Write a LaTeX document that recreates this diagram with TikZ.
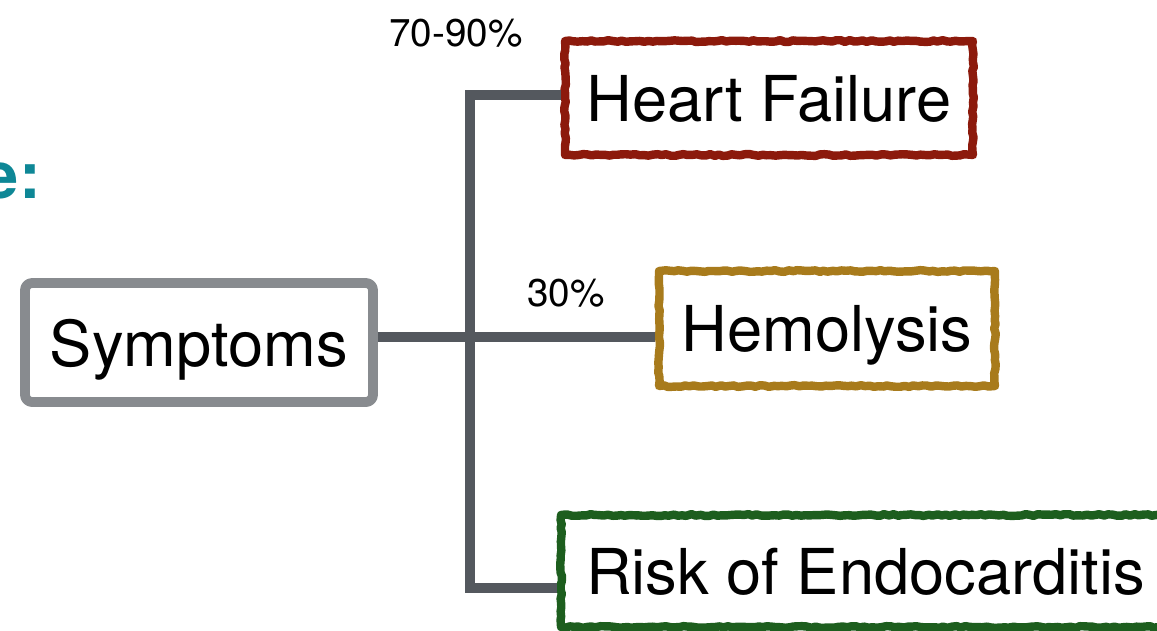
\documentclass[tikz,border=0pt]{standalone}
\usepackage{fontspec}
\setmainfont{TeX Gyre Heros}
\usetikzlibrary{decorations.pathmorphing}
\definecolor{connc}{HTML}{54585E}
\definecolor{grayc}{HTML}{888B8F}
\definecolor{redc}{HTML}{8C1A0C}
\definecolor{goldc}{HTML}{A87B1C}
\definecolor{greenc}{HTML}{1D5E1E}
\definecolor{tealc}{HTML}{0E8796}
\tikzset{
  boxtext/.style={font=\fontsize{36}{40}\selectfont, inner sep=0pt, text depth=0pt, text=black, anchor=center},
  rough/.style={draw=#1, line width=4.8pt, line join=round, decorate,
    decoration={random steps, segment length=2.5pt, amplitude=0.5pt},
    postaction={draw=#1, line width=1.2pt, line join=round, decorate,
      decoration={random steps, segment length=1.6pt, amplitude=1.9pt}}},
  soft/.style={draw=#1, line width=5.6pt, line join=round, rounded corners=4pt},
  conn/.style={draw=connc, line width=5.7pt, line join=miter, line cap=butt},
  pct/.style={font=\fontsize{22}{26}\selectfont, inner sep=0pt, text=black},
  frag/.style={font=\fontsize{37}{42}\selectfont\bfseries, inner sep=0pt, text=tealc}
}
\begin{document}
\begin{tikzpicture}[x=0.02cm, y=-0.02cm]
\pgfmathsetseed{7}
\useasboundingbox (0,0) rectangle (1157,630);
\clip (0,0) rectangle (1157,630);

\node[frag, anchor=base east] (frg) at (41,198) {e:};

\node[boxtext, soft=grayc, minimum width=6.96cm, minimum height=2.38cm] (sym) at (199,342.5) {Symptoms};
\node[boxtext, rough=redc, minimum width=8.16cm, minimum height=2.28cm] (hf) at (769,98) {Heart Failure};
\node[boxtext, rough=goldc, minimum width=6.72cm, minimum height=2.30cm] (hem) at (827,328.5) {Hemolysis};
\node[boxtext, rough=greenc, minimum width=12.18cm, minimum height=2.24cm] (risk) at (865.5,571) {Risk of Endocarditis};

\coordinate (jt) at (470,95);
\coordinate (jb) at (470,588);
\coordinate (jm) at (470,337);

\draw[conn] (sym.east |- jm) -- (hem.west |- jm);
\draw[conn] (hf.west |- jt) -- (jt) -- (jb) -- (risk.west |- jb);

\node[pct] (p1) at (456,33.5) {70-90\%};
\node[pct] (p2) at (566,293.5) {30\%};
\end{tikzpicture}
\end{document}
